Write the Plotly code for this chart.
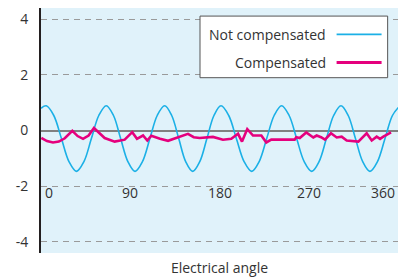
import plotly.graph_objects as go

# Not compensated waveform (peaks, troughs and intermediate points)
angle_nc = [0, 5.3, 12.9, 20.6, 28.2, 35.8, 43.3, 50.8, 58.3, 65.8, 73.1, 80.3, 87.6, 94.8,
            102.3, 109.8, 117.2, 124.7, 131.8, 138.9, 145.9, 153, 160.1, 167.3, 174.4, 181.5,
            189.3, 197, 204.8, 212.5, 220, 227.6, 235.1, 242.6, 250.2, 257.8, 265.4, 273,
            280.4, 287.8, 295.1, 302.5, 309.8, 317.1, 324.4, 331.7, 339.3, 346.9, 354.4, 362]
value_nc = [0.80, 0.89, 0.54, -0.29, -1.12, -1.47, -1.12, -0.29, 0.54, 0.89, 0.54, -0.29, -1.12, -1.47,
            -1.12, -0.29, 0.54, 0.89, 0.54, -0.29, -1.12, -1.47, -1.12, -0.29, 0.54, 0.89,
            0.54, -0.29, -1.12, -1.47, -1.12, -0.29, 0.54, 0.89, 0.54, -0.29, -1.12, -1.47,
            -1.12, -0.29, 0.54, 0.89, 0.54, -0.29, -1.12, -1.47, -1.12, -0.29, 0.54, 0.89]

# Compensated waveform
angle_c = [0.3, 6, 12.1, 18, 24, 31.6, 36.9, 42.4, 48, 53.4, 64.2, 74.3, 84.4, 92, 96.8, 102.9,
           107.2, 111.2, 120, 128.1, 148.2, 154, 160, 166, 173.4, 183.5, 191.9, 198.7, 202.7,
           208, 213.8, 222.2, 227.2, 232.2, 255.8, 257.4, 260.9, 267.5, 274.6, 278, 282.4,
           286.4, 292.4, 298.2, 303.2, 308.3, 320, 328.4, 333.5, 338.5, 341.9, 345.2, 353]
value_c = [-0.27, -0.38, -0.43, -0.40, -0.28, -0.01, -0.20, -0.30, -0.18, 0.09, -0.27, -0.40, -0.33, -0.06, -0.30, -0.18,
           -0.36, -0.19, -0.30, -0.37, -0.12, -0.24, -0.27, -0.25, -0.23, -0.33, -0.30, -0.12, -0.40,
           0.05, -0.18, -0.18, -0.43, -0.33, -0.33, -0.24, -0.27, -0.07, -0.25, -0.18, -0.24,
           -0.33, -0.10, -0.25, -0.22, -0.36, -0.40, -0.10, -0.36, -0.22, -0.30, -0.22, -0.07]

x_tick_vals = [0, 90, 180, 270, 360]
x_tick_text = ["0", "90", "180", "270", "360"]
y_tick_vals = [-4, -2, 0, 2, 4]
y_tick_text = ["-4", "-2", "0", "2", "4"]
legend_names = ["Not compensated", "Compensated"]

BLUE = "#1bb0e6"
PINK = "#e5007d"
FONT = "Open Sans"
TXT = "#333333"

fig = go.Figure()
fig.add_trace(go.Scatter(x=angle_nc, y=value_nc, mode="lines", name=legend_names[0],
                         line=dict(color=BLUE, width=1.6, shape="spline", smoothing=1.0),
                         showlegend=False))
fig.add_trace(go.Scatter(x=angle_c, y=value_c, mode="lines", name=legend_names[1],
                         line=dict(color=PINK, width=2.6), showlegend=False))

annotations = []
for v, t in zip(x_tick_vals, x_tick_text):
    anchor = "left" if v == 0 else ("right" if v == 360 else "center")
    xs = 2 if v == 0 else (-1 if v == 360 else 0)
    annotations.append(dict(x=v, y=-2, xref="x", yref="y", text=t, showarrow=False,
                            xanchor=anchor, yanchor="middle", xshift=xs, yshift=-6,
                            font=dict(family=FONT, size=14, color=TXT)))

# custom legend (text on the left, sample line on the right)
leg_y = [0.8927, 0.778]
for name, yy in zip(legend_names, leg_y):
    annotations.append(dict(x=0.803, y=yy, xref="paper", yref="paper", text=name,
                            showarrow=False, xanchor="right", yanchor="middle",
                            font=dict(family=FONT, size=14, color=TXT)))

shapes = [dict(type="rect", xref="paper", yref="paper", x0=0.4454, x1=0.971, y0=0.7155, y1=0.967,
               fillcolor="white", line=dict(color="#555555", width=1), layer="above")]
for yy, col, w in zip(leg_y, [BLUE, PINK], [1.8, 3]):
    shapes.append(dict(type="line", xref="paper", yref="paper", x0=0.828, x1=0.954, y0=yy, y1=yy,
                       line=dict(color=col, width=w), layer="above"))

fig.update_layout(
    width=398, height=280,
    margin=dict(l=41, r=0, t=8, b=27),
    paper_bgcolor="white", plot_bgcolor="#e0f2fa",
    font=dict(family=FONT, size=14, color=TXT),
    showlegend=False,
    annotations=annotations, shapes=shapes,
    xaxis=dict(range=[0, 360], showgrid=False, zeroline=False, showticklabels=False,
               ticks="", showline=False,
               title=dict(text="Electrical angle", font=dict(family=FONT, size=14, color=TXT),
                          standoff=10)),
    yaxis=dict(range=[-4.41, 4.41], tickvals=y_tick_vals, ticktext=y_tick_text, ticks="",
               showgrid=True, gridcolor="#9a9a9a", gridwidth=1, griddash="6px,5px",
               zeroline=True, zerolinecolor="#808080", zerolinewidth=2,
               showline=True, linecolor="#231f20", linewidth=2,
               ticklabelstandoff=8,
               tickfont=dict(family=FONT, size=14, color=TXT)),
)

fig.write_html("out.html", config={"displayModeBar": False},
               post_script="document.body.style.margin='0';")
